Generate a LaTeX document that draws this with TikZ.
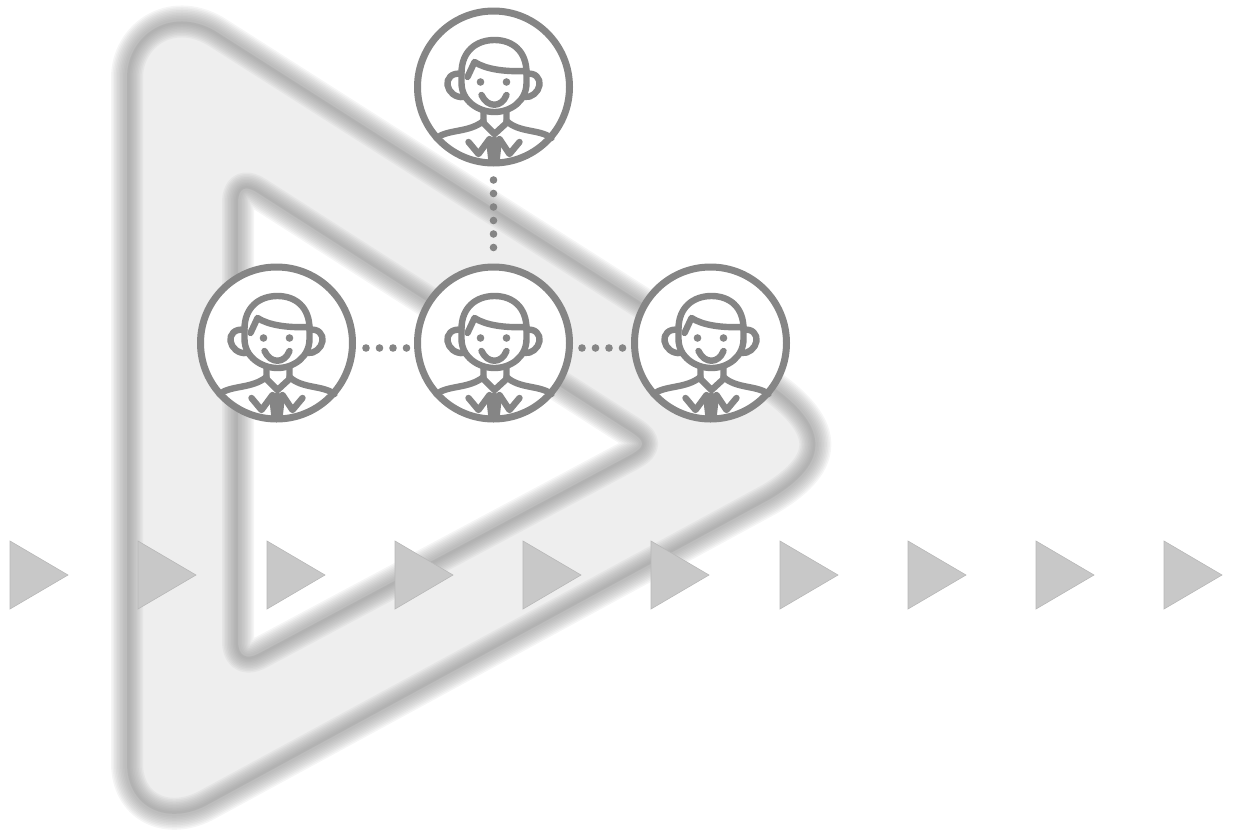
\documentclass[tikz,border=0pt]{standalone}
\usepackage{xcolor}
\definecolor{iconGray}{RGB}{133,133,133}
\definecolor{bandGray}{RGB}{238,238,238}
\definecolor{blurGray}{RGB}{144,144,144}
\definecolor{arrowGray}{RGB}{200,200,200}
\usetikzlibrary{positioning}
\def\px{0.02cm}
% outlines of the big triangle
\def\outerPath{(127,120) -- (127,78) .. controls (127,36) and (170,5) .. (215,31) -- (760,378) .. controls (832,425) and (832,462) .. (770,499) -- (205,806) .. controls (165,826) and (127,806) .. (127,763) -- cycle}
\def\innerPath{(238,300) -- (238,203) .. controls (238,187) and (246,185) .. (258,193) -- (625,428) .. controls (648,442) and (648,446) .. (625,458) -- (258,654) .. controls (246,660) and (238,656) .. (238,641) -- cycle}
\tikzset{
  person/.style={circle, draw=iconGray, fill=white, line width=7*\px,
                 minimum size=152*\px, inner sep=0pt},
  iconline/.style={draw=iconGray, line width=6.4*\px, line cap=round, line join=round},
  dotline/.style={draw=iconGray, line width=7.6*\px, line cap=round,
                  dash pattern=on 0pt off 13.5*\px},
  playmark/.style={fill=arrowGray, draw=arrowGray!92!black, line width=0.6*\px},
  face/.pic={
    % head, ears, hair
    \draw[iconline] (-32,-14) .. controls (-32,-36) and (-17,-47) .. (1,-47)
      .. controls (19,-47) and (33,-36) .. (33,-14) -- (33,-4)
      .. controls (33,14) and (17,25) .. (1,25)
      .. controls (-15,25) and (-32,14) .. (-32,-4) -- cycle;
    \draw[iconline] (-32,-13) .. controls (-42,-15) and (-47,-8) .. (-46,-2)
      .. controls (-45,5) and (-38,11) .. (-30,10);
    \draw[iconline] (33,-13) .. controls (42,-15) and (47,-8) .. (46,-2)
      .. controls (45,5) and (38,11) .. (31,10);
    \draw[iconline] (-26,-10) -- (-19,-25) .. controls (-8,-18) and (10,-15) .. (33,-16);
    \fill[iconGray] (-13,-5) circle (3.8) (13,-5) circle (3.8);
    \draw[iconline] (-12,8) .. controls (-6,21) and (8,21) .. (13,8);
    % neck and shoulders
    \draw[iconline] (-10,25) -- (-10,36) -- (1,47) -- (13,36) -- (13,25);
    \draw[iconline] (-57,51) .. controls (-45,42) and (-25,46) .. (-10,34);
    \draw[iconline] (58,51) .. controls (46,42) and (26,46) .. (13,34);
    \draw[iconline] (-25,55) -- (-15,67) -- (-4,52);
    \draw[iconline] (26,55) -- (16,67) -- (6,52);
    \fill[iconGray] (1,47) -- (8,58) -- (6,76) -- (-5,76) -- (-7,58) -- cycle;
  }
}
\begin{document}
\begin{tikzpicture}[x=\px, y=-\px]
  \useasboundingbox (0,0) rectangle (1237,832);

  % big blurred triangle
  \fill[bandGray, even odd rule] \outerPath \innerPath;
  \foreach \w in {32,29,26,23,20,17,14,11,8,5}
    \draw[blurGray, opacity=0.085, line width=\w*\px, line join=round] \outerPath \innerPath;

  % row of small triangles
  \foreach \i/\x in {1/10,2/138,3/267,4/395,5/523,6/651,7/780,8/908,9/1036,10/1164}
    \draw[playmark] (\x,541) -- (\x+58,575) -- (\x,609) -- cycle;

  \node[person] (top) at (493.5,87) {};
  \node[person] (mid) at (493.5,343) {};
  \node[person] (lft) at (276.5,343) {};
  \node[person] (rgt) at (710.5,343) {};

  \foreach \n in {top,mid,lft,rgt}
    \pic at (\n) {face};

  \draw[dotline, shorten >=13*\px, shorten <=13.5*\px] (top) -- (mid);
  \draw[dotline, shorten >=6*\px, shorten <=10*\px] ([yshift=-5*\px]lft.east) -- ([yshift=-5*\px]mid.west);
  \draw[dotline, shorten >=6*\px, shorten <=9*\px] ([yshift=-5*\px]mid.east) -- ([yshift=-5*\px]rgt.west);
\end{tikzpicture}
\end{document}
